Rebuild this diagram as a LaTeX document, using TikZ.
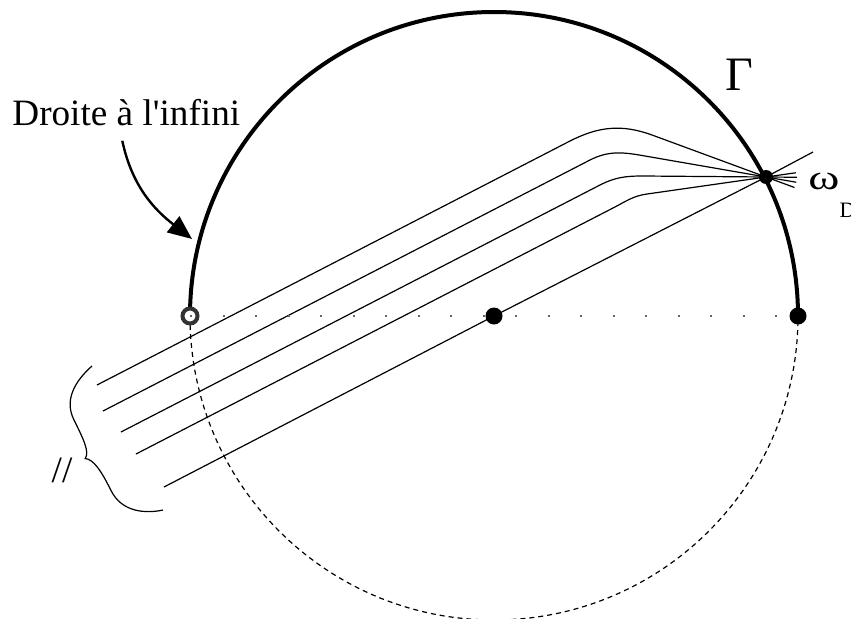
\documentclass[tikz,border=0pt]{standalone}
\usepackage{fontspec}
\setmainfont{Liberation Serif}
\usetikzlibrary{arrows.meta, calc}

\begin{document}
\begin{tikzpicture}[
  x=0.5pt, y=0.5pt,
  dot/.style={circle, fill=black, inner sep=0pt, minimum size=8.5pt},
  hollow/.style={circle, draw=black!80, fill=white, line width=2pt, inner sep=0pt, minimum size=7.5pt},
  ray/.style={line width=0.6pt},
  lbl/.style={inner sep=0pt, anchor=base west},
]
\useasboundingbox (0,0) rectangle (851,618);
\coordinate (O) at (494,302);
\coordinate (L) at (190,302);
\coordinate (R) at (798,302);
\coordinate (wD) at (766,441);
% the circle Gamma
\draw[line width=0.6pt, dash pattern=on 2.5pt off 2pt] (L) arc[start angle=180, end angle=360, radius=152pt];
\draw[line width=2pt] (L) arc[start angle=180, end angle=0, radius=152pt];
% parallel lines bent towards omega_D
\foreach \sx/\sy/\ax/\ay/\bx/\by/\ang in {97/233/570/477/652/483/160, 103/207/590/458/645/462/170,
    121/186/600/433/643/442/180, 136/164/613/410/647/424/188}
  \draw[ray] (\sx,\sy) -- (\ax,\ay) to[out=27, in=\ang] (\bx,\by) -- (wD) -- ($(\bx,\by)!1.25!(wD)$);
\draw[ray] (164,131) -- (O) -- (wD) -- (813,466);
% brace across the parallels
\begin{scope}[shift={(92,252)}, rotate=-63.76, yscale=-1]
  \draw[ray] (0,0) .. controls (6,22) and (18,40) .. (40,40) .. controls (62,40) and (76,40) .. (80,47)
    .. controls (84,40) and (98,38) .. (120,38) .. controls (144,38) and (156,18) .. (160.6,0);
\end{scope}
% points
\node[hollow] (Lpt) at (L) {};
\node[dot] (Opt) at (O) {};
\node[dot] (Rpt) at (R) {};
\node[dot, minimum size=7pt] (wpt) at (wD) {};
\draw[black!60, line width=1pt, dash pattern=on 1pt off 15.25pt] (Lpt.center) -- (Rpt.west);
% labels
\node[lbl, font=\fontsize{18.6}{20}\selectfont] (droite) at (12,493) {Droite à l\textquotesingle infini};
\node[lbl, font=\fontsize{24}{26}\selectfont] (gamma) at (725,528) {Γ};
\node[lbl, font=\fontsize{17.5}{20}\selectfont] (omega) at (808,429)
  {\scalebox{1.35}[1]{ω}{\fontsize{11}{12}\selectfont\raisebox{-14pt}{D}}};
\node[font=\fontsize{18.6}{20}\selectfont] (par) at (62,148) {//};
\coordinate (tipA) at (192,379);
\draw[line width=1.2pt, -{Triangle[length=12pt, width=10pt]}] ([xshift=-2pt, yshift=-7.5pt]droite.south)
  to[out=-78, in=142] (tipA);
\end{tikzpicture}
\end{document}
